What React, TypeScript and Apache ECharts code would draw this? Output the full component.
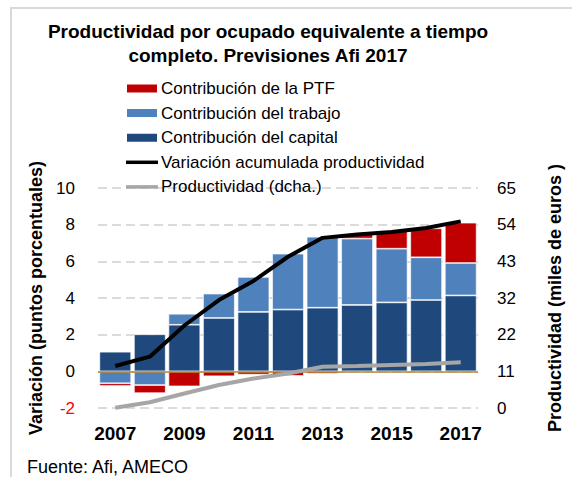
import React, { useEffect, useRef } from "react";
import * as echarts from "echarts";

const years = ["2007", "2008", "2009", "2010", "2011", "2012", "2013", "2014", "2015", "2016", "2017"];
const capital = [1.07, 2.02, 2.54, 2.91, 3.24, 3.37, 3.47, 3.62, 3.76, 3.89, 4.14];
const trabajo = [-0.65, -0.75, 0.6, 1.33, 1.91, 3.05, 3.87, 3.62, 2.93, 2.33, 1.77];
const ptf = [-0.15, -0.44, -0.82, -0.27, -0.18, -0.25, -0.13, 0.24, 0.96, 1.58, 2.2];
const acumulada = [0.29, 0.8, 2.5, 3.89, 4.93, 6.25, 7.28, 7.46, 7.6, 7.82, 8.18];
const productividad = [0.1, 1.7, 4.3, 6.8, 8.7, 10.2, 12.2, 12.4, 12.7, 13.0, 13.5];
const rightTickLabels = ["0", "11", "22", "32", "43", "54", "65"];

const FONT = "'Liberation Sans', Arial, sans-serif";
const LINE_ICON = "path://M0,0 L32,0 L32,3.5 L0,3.5 Z";

export default function App() {
  const ref = useRef<HTMLDivElement>(null);
  useEffect(() => {
    const chart = echarts.init(ref.current!, null, { renderer: "svg" });
    const rightStep = 65 / 6;
    chart.setOption({
      animation: false,
      backgroundColor: "#fff",
      textStyle: { fontFamily: FONT },
      title: {
        text: "Productividad por ocupado equivalente a tiempo\ncompleto. Previsiones Afi 2017",
        left: 268,
        top: 19,
        padding: 0,
        textAlign: "center",
        textStyle: { fontFamily: FONT, fontSize: 19, fontWeight: "bold", color: "#000", lineHeight: 24 },
      },
      legend: {
        orient: "vertical",
        left: 125,
        top: 80,
        padding: 0,
        itemWidth: 32,
        itemHeight: 10,
        itemGap: 7.6,
        textStyle: { fontFamily: FONT, fontSize: 17, color: "#000", padding: [0, 0, 0, -2] },
        data: [
          { name: "Contribución de la PTF", icon: "rect" },
          { name: "Contribución del trabajo", icon: "rect" },
          { name: "Contribución del capital", icon: "rect" },
          { name: "Variación acumulada productividad", icon: LINE_ICON },
          { name: "Productividad (dcha.)", icon: LINE_ICON },
        ],
      },
      grid: { left: 98, right: 91, top: 188, bottom: 69 },
      xAxis: {
        type: "category",
        data: years,
        axisLine: { show: false, onZero: false },
        axisTick: { show: false },
        axisLabel: {
          interval: 1,
          margin: 16,
          fontFamily: FONT,
          fontSize: 19,
          fontWeight: "bold",
          color: "#000",
        },
      },
      yAxis: [
        {
          type: "value",
          min: -2,
          max: 10,
          interval: 2,
          name: "Variación (puntos porcentuales)",
          nameLocation: "middle",
          nameGap: 52,
          nameTextStyle: { fontFamily: FONT, fontSize: 18, fontWeight: "bold", color: "#000" },
          axisLine: { show: false },
          axisTick: { show: false },
          axisLabel: {
            margin: 23,
            fontFamily: FONT,
            fontSize: 17,
            color: (v: any) => (Number(v) < 0 ? "#FF0000" : "#000"),
          },
          splitLine: { lineStyle: { color: "#D0D0D0", type: [9, 5], width: 1.5 } },
        },
        {
          type: "value",
          min: 0,
          max: 65,
          interval: rightStep,
          name: "Productividad (miles de euros )",
          nameLocation: "middle",
          nameGap: 68,
          nameRotate: 90,
          nameTextStyle: { fontFamily: FONT, fontSize: 18, fontWeight: "bold", color: "#000" },
          axisLine: { show: false },
          axisTick: { show: false },
          splitLine: { show: false },
          axisLabel: {
            margin: 19,
            fontFamily: FONT,
            fontSize: 17,
            color: "#000",
            formatter: (v: number) => rightTickLabels[Math.round(v / rightStep)] ?? "",
          },
        },
      ],
      series: [
        {
          name: "Contribución del capital",
          type: "bar",
          stack: "c",
          data: capital,
          barCategoryGap: "8%",
          itemStyle: { color: "#1F497D", borderColor: "#fff", borderWidth: 0.7 },
          markLine: {
            silent: true,
            symbol: "none",
            label: { show: false },
            lineStyle: { color: "#B8862E", type: "solid", width: 1.5 },
            data: [{ yAxis: 0 }],
          },
        },
        {
          name: "Contribución del trabajo",
          type: "bar",
          stack: "c",
          data: trabajo,
          itemStyle: { color: "#4F81BD", borderColor: "#fff", borderWidth: 0.7 },
        },
        {
          name: "Contribución de la PTF",
          type: "bar",
          stack: "c",
          data: ptf,
          itemStyle: { color: "#C00000", borderColor: "#fff", borderWidth: 0.7 },
        },
        {
          name: "Variación acumulada productividad",
          type: "line",
          data: acumulada,
          symbol: "none",
          lineStyle: { color: "#000", width: 4 },
          itemStyle: { color: "#000" },
          z: 5,
        },
        {
          name: "Productividad (dcha.)",
          type: "line",
          yAxisIndex: 1,
          data: productividad,
          symbol: "none",
          lineStyle: { color: "#A6A6A6", width: 4 },
          itemStyle: { color: "#A6A6A6" },
          z: 5,
        },
      ],
      graphic: [
        {
          type: "rect",
          shape: { x: 11, y: 8, width: 700, height: 600 },
          style: { fill: "none", stroke: "#D9D9D9", lineWidth: 2 },
          silent: true,
        },
        {
          type: "text",
          left: 27,
          top: 458,
          style: { text: "Fuente: Afi, AMECO", fontFamily: FONT, fontSize: 18, fill: "#000" },
        },
      ],
    });
    return () => chart.dispose();
  }, []);
  return <div ref={ref} style={{ position: "fixed", left: 0, top: 0, width: 572, height: 477 }} />;
}
